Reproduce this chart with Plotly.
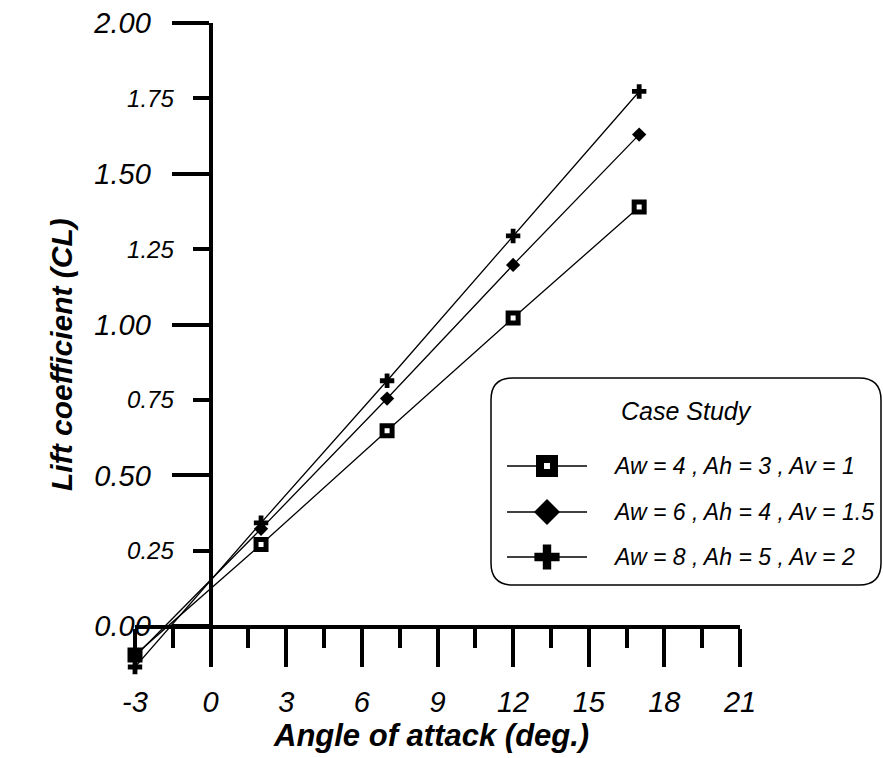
import plotly.graph_objects as go

# Angle of attack (deg.) and lift coefficient for each configuration
alpha = [-3, 2, 7, 12, 17]
cl_case1 = [-0.095, 0.271, 0.648, 1.022, 1.390]   # Aw=4, Ah=3, Av=1
cl_case2 = [-0.100, 0.323, 0.755, 1.198, 1.630]   # Aw=6, Ah=4, Av=1.5
cl_case3 = [-0.135, 0.343, 0.814, 1.294, 1.773]   # Aw=8, Ah=5, Av=2

case_labels = ["Aw = 4 , Ah = 3 , Av = 1",
               "Aw = 6 , Ah = 4 , Av = 1.5",
               "Aw = 8 , Ah = 5 , Av = 2"]

x_major = [-3, 0, 3, 6, 9, 12, 15, 18, 21]
x_minor = [-1.5, 1.5, 4.5, 7.5, 10.5, 13.5, 16.5, 19.5]
y_major = [0.0, 0.5, 1.0, 1.5, 2.0]
y_minor = [0.25, 0.75, 1.25, 1.75]

W, H = 883, 758
FONT = "Liberation Sans, Arial, sans-serif"

def px(x):
    return x / W

def py(y):
    return 1 - y / H

marker_styles = [
    dict(symbol="square", size=10, color="white", line=dict(color="black", width=5)),
    dict(symbol="diamond", size=11, color="black", line=dict(width=0)),
    dict(symbol="cross", size=12, color="black", line=dict(width=0)),
]

fig = go.Figure()
for ys, m in zip([cl_case1, cl_case2, cl_case3], marker_styles):
    fig.add_trace(go.Scatter(
        x=alpha, y=ys, mode="lines+markers",
        line=dict(color="black", width=1.3),
        marker=m, cliponaxis=False, showlegend=False,
        xaxis="x", yaxis="y"))

# plot geometry: x from -3 to 21, y from -0.135 to 2.0
x_dom = [px(135), px(740)]
y_dom = [py(667), py(23)]
x0_pos = px(210.6)   # where alpha = 0
y0_pos = py(626.5)   # where CL = 0

fig.update_layout(
    width=W, height=H,
    margin=dict(l=0, r=0, t=0, b=0, autoexpand=False),
    paper_bgcolor="white", plot_bgcolor="rgba(0,0,0,0)",
    showlegend=False,
    xaxis=dict(domain=x_dom, range=[-3, 21], anchor="free", position=y0_pos,
               automargin=False, showgrid=False, zeroline=False,
               showline=True, linewidth=4, linecolor="black",
               tickmode="array", tickvals=x_major, ticktext=[str(v) for v in x_major],
               ticks="outside", ticklen=38, tickwidth=4, tickcolor="black",
               ticklabelstandoff=11,
               tickfont=dict(family=FONT, size=29, color="black", style="italic"),
               minor=dict(tickmode="array", tickvals=x_minor, ticks="outside",
                          ticklen=19, tickwidth=4, tickcolor="black", showgrid=False)),
    yaxis=dict(domain=y_dom, range=[-0.135, 2.0], anchor="free", position=x0_pos,
               automargin=False, showgrid=False, zeroline=False,
               showline=True, linewidth=4, linecolor="black",
               tickmode="array", tickvals=y_major, ticktext=[f"{v:.2f}" for v in y_major],
               ticks="outside", ticklen=37, tickwidth=4, tickcolor="black",
               ticklabelstandoff=15,
               tickfont=dict(family=FONT, size=29, color="black", style="italic")),
    yaxis2=dict(domain=y_dom, range=[-0.135, 2.0], anchor="free", position=x0_pos,
                overlaying="y", automargin=False, showgrid=False, zeroline=False,
                showline=False,
                tickmode="array", tickvals=y_minor, ticktext=[f"{v:.2f}" for v in y_minor],
                ticks="outside", ticklen=18, tickwidth=4, tickcolor="black",
                ticklabelstandoff=14,
                tickfont=dict(family=FONT, size=24, color="black", style="italic")),
    # pixel-space axes for the legend key
    xaxis3=dict(domain=[0, 1], range=[0, W], visible=False, anchor="y3", automargin=False),
    yaxis3=dict(domain=[0, 1], range=[H, 0], visible=False, anchor="x3", automargin=False),
)

# empty trace so yaxis2 gets drawn
fig.add_trace(go.Scatter(x=[None], y=[None], xaxis="x", yaxis="y2", showlegend=False))

# axis titles
fig.add_annotation(text="Angle of attack (deg.)", xref="paper", yref="paper",
                   x=px(431), y=py(735), xanchor="center", yanchor="middle",
                   showarrow=False,
                   font=dict(family=FONT, size=31, color="black", weight="bold", style="italic"))
fig.add_annotation(text="Lift coefficient (CL)", xref="paper", yref="paper",
                   x=px(61), y=py(355), xanchor="center", yanchor="middle",
                   showarrow=False, textangle=-90,
                   font=dict(family=FONT, size=30, color="black", weight="bold", style="italic"))

# legend box with rounded corners
bx0, by0, bx1, by1, r = 491, 378, 881, 585, 22
path = (f"M {px(bx0 + r)},{py(by0)} L {px(bx1 - r)},{py(by0)} "
        f"Q {px(bx1)},{py(by0)} {px(bx1)},{py(by0 + r)} "
        f"L {px(bx1)},{py(by1 - r)} Q {px(bx1)},{py(by1)} {px(bx1 - r)},{py(by1)} "
        f"L {px(bx0 + r)},{py(by1)} Q {px(bx0)},{py(by1)} {px(bx0)},{py(by1 - r)} "
        f"L {px(bx0)},{py(by0 + r)} Q {px(bx0)},{py(by0)} {px(bx0 + r)},{py(by0)} Z")
fig.add_shape(type="path", path=path, xref="paper", yref="paper",
              line=dict(color="black", width=1.5), fillcolor="white", layer="below")

fig.add_annotation(text="Case Study", xref="paper", yref="paper",
                   x=px(686), y=py(411), xanchor="center", yanchor="middle",
                   showarrow=False,
                   font=dict(family=FONT, size=25, color="black", style="italic"))

# legend key: larger copies of the series markers
key_markers = [
    dict(symbol="square", size=14, color="white", line=dict(color="black", width=8)),
    dict(symbol="diamond", size=20, color="black", line=dict(width=0)),
    dict(symbol="cross", size=21, color="black", line=dict(width=0)),
]
row_y = [466, 512, 557]
for yy, km, lab in zip(row_y, key_markers, case_labels):
    fig.add_trace(go.Scatter(x=[507, 587], y=[yy, yy], mode="lines",
                             line=dict(color="black", width=1.5),
                             xaxis="x3", yaxis="y3", showlegend=False, hoverinfo="skip"))
    fig.add_trace(go.Scatter(x=[547], y=[yy], mode="markers", marker=km,
                             xaxis="x3", yaxis="y3", showlegend=False, hoverinfo="skip"))
    fig.add_annotation(text=lab, xref="paper", yref="paper",
                       x=px(611), y=py(yy), xanchor="left", yanchor="middle",
                       showarrow=False,
                       font=dict(family=FONT, size=23, color="black", style="italic"))

fig.write_html("out.html")
